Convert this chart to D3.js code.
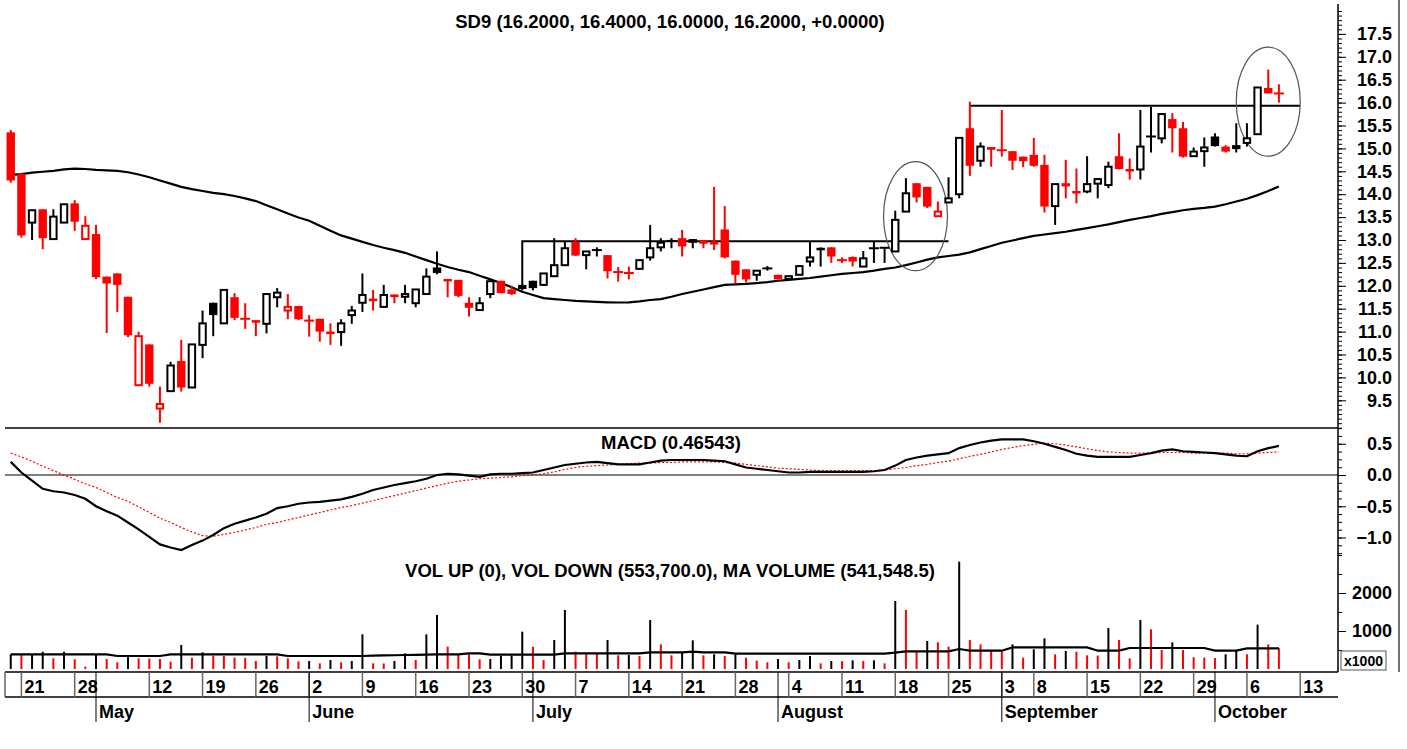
<!DOCTYPE html>
<html>
<head>
<meta charset="utf-8">
<script src="https://cdn.jsdelivr.net/npm/d3@7"></script>
<style>
body { margin: 0; background: #fff; }
svg text { font-family: "Liberation Sans", Arial, sans-serif; font-weight: bold; fill: #000; }
</style>
</head>
<body>
<div id="chart"></div>
<script>
"use strict";

// ---- price data (one value per trading day) ----
const opens = [15.35,14.44,13.38,13.67,13.02,13.38,13.80,13.02,13.13,12.20,
  12.27,11.76,9.83,10.72,9.32,9.70,10.36,9.78,10.71,11.63,
  11.18,11.75,11.29,11.25,11.17,11.75,11.46,11.56,11.25,11.28,
  11.00,10.99,11.36,11.63,11.72,11.54,11.81,11.76,11.62,11.82,
  12.40,12.15,12.13,11.63,11.47,11.82,12.11,11.92,12.02,12.11,
  12.02,12.21,12.45,12.96,12.67,12.77,12.67,12.31,12.29,12.37,
  12.62,12.84,12.97,13.04,13.02,13.00,12.97,13.23,12.55,12.36,
  12.24,12.37,12.24,12.15,12.24,12.53,12.83,12.84,12.57,12.63,
  12.42,12.81,12.82,12.75,13.62,14.24,14.16,13.52,13.82,14.00,
  15.44,14.73,15.03,14.97,14.94,14.82,14.86,14.64,13.74,14.24,
  14.07,14.06,14.23,14.20,14.83,14.55,14.54,15.25,15.22,15.64,
  15.44,14.83,14.94,15.26,15.04,15.03,15.12,15.31,16.32,16.20];
const highs = [15.40,14.45,13.65,13.67,13.67,13.78,13.87,13.52,13.33,12.20,
  12.27,11.76,11.00,10.72,9.80,10.34,10.82,10.72,11.46,11.63,
  11.91,11.84,11.62,11.25,11.82,11.95,11.82,11.56,11.36,11.28,
  11.18,11.27,11.56,12.27,11.91,12.02,11.81,12.02,11.92,12.38,
  12.75,12.15,12.13,11.75,11.75,12.10,12.11,12.00,12.02,12.11,
  12.27,13.04,12.96,13.04,12.75,12.84,12.67,12.41,12.42,12.56,
  13.33,13.04,13.04,13.22,13.02,13.00,14.16,13.74,12.55,12.36,
  12.33,12.43,12.24,12.21,12.43,12.96,12.84,12.84,12.62,12.64,
  12.76,12.96,12.84,13.64,14.35,14.24,14.16,13.84,14.37,15.23,
  16.02,15.13,15.03,15.84,14.94,14.82,15.23,14.86,14.22,14.75,
  14.56,14.83,14.35,14.71,15.33,14.78,15.84,15.91,15.75,15.77,
  15.58,15.02,15.24,15.33,15.07,15.55,15.55,16.33,16.72,16.40];
const lows = [14.25,13.05,13.00,12.80,13.02,13.38,13.20,13.02,12.15,10.97,
  11.43,10.88,9.83,9.80,9.01,9.70,9.69,9.78,10.42,10.90,
  11.18,11.25,11.06,10.90,10.96,11.53,11.27,11.25,10.89,10.78,
  10.71,10.69,11.17,11.43,11.46,11.54,11.62,11.62,11.53,11.82,
  12.25,11.75,11.75,11.33,11.46,11.73,11.84,11.80,11.90,11.90,
  12.00,12.19,12.45,12.65,12.36,12.64,12.16,12.09,12.14,12.37,
  12.55,12.75,12.82,12.64,12.82,12.82,12.78,12.60,12.05,12.07,
  12.11,12.33,12.14,12.14,12.24,12.42,12.42,12.50,12.50,12.42,
  12.42,12.50,12.50,12.75,13.62,13.82,13.70,13.52,13.82,13.91,
  14.40,14.60,14.60,14.82,14.53,14.59,14.60,13.60,13.33,13.91,
  13.80,14.02,13.91,14.13,14.54,14.32,14.32,14.91,15.11,14.91,
  14.80,14.83,14.60,15.04,14.91,14.91,15.04,15.31,16.20,16.00];
const closes = [14.30,13.10,13.65,13.04,13.51,13.78,13.40,13.31,12.19,12.05,
  12.02,10.92,10.90,9.86,9.42,10.26,9.78,10.72,11.18,11.36,
  11.91,11.30,11.28,11.22,11.82,11.85,11.54,11.27,11.24,11.00,
  10.98,11.18,11.46,11.80,11.70,11.80,11.76,11.82,11.92,12.20,
  12.28,12.13,11.78,11.52,11.62,12.10,11.84,11.82,11.93,11.95,
  12.27,12.45,12.82,12.66,12.75,12.78,12.32,12.30,12.28,12.56,
  12.82,12.94,12.98,12.86,12.94,12.92,12.90,12.62,12.24,12.14,
  12.33,12.38,12.14,12.21,12.43,12.62,12.81,12.64,12.56,12.53,
  12.60,12.82,12.83,13.44,14.02,13.93,13.73,13.62,13.91,15.23,
  14.62,15.04,14.97,14.96,14.73,14.72,14.62,13.73,14.22,14.17,
  14.05,14.22,14.33,14.60,14.55,14.53,15.04,15.26,15.75,15.44,
  14.82,14.93,15.02,15.05,14.93,15.05,15.22,16.33,16.20,16.20];

// long moving average of price
const maPrice = [14.42,14.44,14.47,14.49,14.51,14.54,14.56,14.55,14.53,14.52,
  14.51,14.48,14.43,14.37,14.30,14.23,14.16,14.11,14.07,14.03,
  14.00,13.96,13.91,13.85,13.76,13.67,13.58,13.49,13.42,13.31,
  13.20,13.10,13.03,12.96,12.89,12.83,12.78,12.72,12.64,12.56,
  12.48,12.41,12.35,12.30,12.22,12.14,12.06,11.97,11.87,11.80,
  11.73,11.71,11.69,11.67,11.66,11.65,11.64,11.635,11.64,11.66,
  11.69,11.71,11.76,11.82,11.87,11.92,11.97,12.02,12.03,12.04,
  12.06,12.08,12.11,12.13,12.15,12.17,12.20,12.23,12.26,12.28,
  12.30,12.33,12.37,12.40,12.45,12.51,12.57,12.62,12.65,12.68,
  12.73,12.80,12.87,12.94,12.99,13.04,13.09,13.12,13.15,13.18,
  13.22,13.26,13.30,13.34,13.39,13.44,13.48,13.52,13.57,13.61,
  13.65,13.68,13.70,13.73,13.78,13.84,13.90,13.98,14.07,14.17];

// MACD and its signal line
const macd = [0.21,0.04,-0.09,-0.22,-0.26,-0.28,-0.32,-0.38,-0.50,-0.58,
  -0.65,-0.76,-0.87,-0.99,-1.11,-1.16,-1.20,-1.12,-1.05,-0.96,
  -0.85,-0.78,-0.73,-0.68,-0.62,-0.53,-0.50,-0.46,-0.44,-0.43,
  -0.41,-0.39,-0.35,-0.30,-0.24,-0.20,-0.16,-0.13,-0.10,-0.06,
  0.00,0.02,0.01,-0.01,-0.03,0.01,0.02,0.02,0.03,0.04,
  0.08,0.12,0.16,0.18,0.20,0.21,0.19,0.17,0.17,0.17,
  0.20,0.23,0.24,0.24,0.24,0.24,0.23,0.22,0.17,0.12,
  0.10,0.08,0.06,0.04,0.04,0.05,0.05,0.05,0.05,0.05,
  0.05,0.06,0.08,0.15,0.24,0.28,0.31,0.33,0.35,0.43,
  0.48,0.52,0.55,0.57,0.57,0.57,0.54,0.50,0.45,0.40,
  0.34,0.31,0.29,0.29,0.29,0.29,0.32,0.35,0.39,0.41,
  0.38,0.37,0.36,0.35,0.33,0.31,0.30,0.38,0.43,0.465];
const signal = [0.35,0.29,0.22,0.14,0.07,0.00,-0.07,-0.14,-0.20,-0.28,
  -0.36,-0.42,-0.51,-0.60,-0.69,-0.76,-0.84,-0.91,-0.97,-0.98,
  -0.95,-0.92,-0.88,-0.84,-0.79,-0.76,-0.72,-0.68,-0.64,-0.60,
  -0.56,-0.52,-0.49,-0.45,-0.41,-0.37,-0.33,-0.29,-0.25,-0.21,
  -0.17,-0.13,-0.10,-0.08,-0.06,-0.05,-0.04,-0.03,-0.01,0.00,
  0.02,0.05,0.09,0.12,0.14,0.15,0.16,0.17,0.18,0.19,
  0.19,0.20,0.20,0.21,0.21,0.21,0.21,0.20,0.19,0.17,
  0.15,0.13,0.11,0.10,0.09,0.08,0.07,0.07,0.07,0.07,
  0.07,0.07,0.08,0.10,0.12,0.15,0.17,0.20,0.22,0.26,
  0.30,0.33,0.37,0.41,0.44,0.47,0.49,0.51,0.50,0.48,
  0.45,0.42,0.39,0.37,0.36,0.35,0.35,0.35,0.36,0.36,
  0.36,0.35,0.35,0.35,0.35,0.34,0.34,0.35,0.36,0.37];

// volume in thousands and its moving average
const volumes = [386,386,390,456,281,456,254,61,386,263,
  175,325,281,275,263,193,632,298,439,351,
  345,298,292,211,345,335,281,200,210,149,
  237,175,211,912,149,145,211,412,237,912,
  1421,588,395,386,255,263,345,355,982,588,
  237,763,1553,456,430,412,763,360,368,342,
  1289,649,360,430,754,360,386,342,386,298,
  219,175,263,175,237,342,149,211,205,228,
  211,228,149,1789,1553,456,737,702,588,2825,
  763,649,474,468,649,298,518,807,386,474,
  456,360,355,1079,763,281,1289,1044,500,702,
  500,310,300,290,386,474,386,1167,649,553.7];
const volMA = [386,386,386,386,386,386,386,386,386,386,
  342,342,342,342,342,386,386,386,386,386,
  386,386,386,386,386,386,342,342,342,342,
  342,342,342,342,350,356,362,368,374,380,
  386,386,386,412,412,377,377,377,377,377,
  377,377,412,412,412,412,412,412,412,412,
  439,439,439,439,456,439,439,439,404,404,
  404,404,404,404,404,404,404,404,404,404,
  404,404,404,430,465,465,465,465,465,526,
  482,482,482,482,570,570,570,570,570,570,
  570,570,482,482,482,553,553,553,553,553,
  553,553,553,482,482,482,541.5,541.5,541.5,541.5];

// date axis: [day index, label]
const weekTicks = [[1,"21"],[6,"28"],[13,"12"],[18,"19"],[23,"26"],[28,"2"],[33,"9"],[38,"16"],
  [43,"23"],[48,"30"],[53,"7"],[58,"14"],[63,"21"],[68,"28"],[73,"4"],[78,"11"],[83,"18"],
  [88,"25"],[93,"3"],[96,"8"],[101,"15"],[106,"22"],[111,"29"],[116,"6"],[121,"13"]];
const monthTicks = [[8,"May"],[28,"June"],[49,"July"],[72,"August"],[93,"September"],[113,"October"]];

// drawn annotations (in day index / price units)
const boxLine = [[48,12.02],[48,12.97],[88,12.97]];
const resistLine = [[90,15.93],[121,15.93]];
const ellipses = [{k:84.9, p:13.52, dk:3.0, dp:1.19}, {k:118, p:16.02, dk:3.0, dp:1.19}];

const titleText = "SD9 (16.2000, 16.4000, 16.0000, 16.2000, +0.0000)";
const macdText = "MACD (0.46543)";
const volText = "VOL UP (0), VOL DOWN (553,700.0), MA VOLUME (541,548.5)";

window.onload = draw;

function draw() {
    const W = 1407, H = 749;
    const left = 5, axisX = 1338;
    const RED = "#ff0000";

    const svg = d3.select("#chart").append("svg")
        .attr("width", W).attr("height", H);

    const x = d3.scaleLinear().domain([0, 119]).range([10.75, 1278.9]);
    const yP = d3.scaleLinear().domain([9.5, 17.5]).range([400.3, 33.9]);
    const yM = d3.scaleLinear().domain([-1, 0.5]).range([537.5, 443.75]);
    const yV = d3.scaleLinear().domain([0, 2000]).range([669, 593]);

    const idx = d3.range(opens.length);
    // candles: black when close rose, red otherwise
    const col = i => (i > 0 && closes[i] > closes[i - 1]) ? "#000" : RED;
    // volume bars: black when volume rose, red otherwise
    const vcol = i => (i === 0 || volumes[i] > volumes[i - 1]) ? "#000" : RED;

    // frame lines
    svg.append("line").attr("x1", left).attr("x2", axisX).attr("y1", 428).attr("y2", 428)
        .attr("stroke", "#000").attr("stroke-width", 1.5);
    svg.append("line").attr("x1", left).attr("x2", axisX).attr("y1", yM(0)).attr("y2", yM(0))
        .attr("stroke", "#000").attr("stroke-width", 1);
    svg.append("line").attr("x1", axisX).attr("x2", axisX).attr("y1", 4).attr("y2", 672)
        .attr("stroke", "#000").attr("stroke-width", 1.5);
    svg.append("line").attr("x1", 1399).attr("x2", 1399).attr("y1", 0).attr("y2", 672)
        .attr("stroke", "#444").attr("stroke-width", 1.5);

    // titles
    svg.append("text").attr("x", 670).attr("y", 28).attr("text-anchor", "middle")
        .style("font-size", "18.5px").text(titleText);
    svg.append("text").attr("x", 671).attr("y", 449).attr("text-anchor", "middle")
        .style("font-size", "18.5px").text(macdText);
    svg.append("text").attr("x", 670).attr("y", 577).attr("text-anchor", "middle")
        .style("font-size", "18.5px").text(volText);

    // price MA
    svg.append("path").datum(idx)
        .attr("fill", "none").attr("stroke", "#000").attr("stroke-width", 2.2)
        .attr("d", d3.line().x(i => x(i)).y(i => yP(maPrice[i])));

    // annotations
    const annoLine = d3.line().x(d => x(d[0])).y(d => yP(d[1]));
    svg.append("path").attr("d", annoLine(boxLine))
        .attr("fill", "none").attr("stroke", "#000").attr("stroke-width", 2);
    svg.append("path").attr("d", annoLine(resistLine))
        .attr("fill", "none").attr("stroke", "#000").attr("stroke-width", 2);
    svg.selectAll(".ell").data(ellipses).join("ellipse")
        .attr("cx", d => x(d.k)).attr("cy", d => yP(d.p))
        .attr("rx", d => x(d.k + d.dk) - x(d.k)).attr("ry", d => yP(d.p - d.dp) - yP(d.p))
        .attr("fill", "none").attr("stroke", "#555").attr("stroke-width", 1.2);

    // candles
    const candles = svg.append("g").selectAll("g").data(idx).join("g");
    candles.append("line")
        .attr("x1", i => x(i)).attr("x2", i => x(i))
        .attr("y1", i => yP(highs[i])).attr("y2", i => yP(lows[i]))
        .attr("stroke", col).attr("stroke-width", 2);
    candles.each(function(i) {
        const g = d3.select(this);
        const o = opens[i], c = closes[i];
        if (Math.abs(c - o) < 0.015) {
            g.append("line")
                .attr("x1", x(i) - 5).attr("x2", x(i) + 5)
                .attr("y1", yP(c)).attr("y2", yP(c))
                .attr("stroke", col(i)).attr("stroke-width", 2);
        } else if (c > o) {
            // hollow body
            g.append("rect")
                .attr("x", x(i) - 3.2).attr("width", 6.4)
                .attr("y", yP(c)).attr("height", Math.max(2, yP(o) - yP(c)))
                .attr("fill", "#fff").attr("stroke", col(i)).attr("stroke-width", 2);
        } else {
            g.append("rect")
                .attr("x", x(i) - 4.2).attr("width", 8.4)
                .attr("y", yP(o)).attr("height", Math.max(2.5, yP(c) - yP(o)))
                .attr("fill", col(i));
        }
    });

    // MACD lines
    svg.append("path").datum(idx)
        .attr("fill", "none").attr("stroke", RED).attr("stroke-width", 1.2)
        .attr("stroke-dasharray", "2,2")
        .attr("d", d3.line().x(i => x(i)).y(i => yM(signal[i])));
    svg.append("path").datum(idx)
        .attr("fill", "none").attr("stroke", "#000").attr("stroke-width", 2.2)
        .attr("d", d3.line().x(i => x(i)).y(i => yM(macd[i])));

    // volume bars and MA
    svg.append("g").selectAll("line").data(idx).join("line")
        .attr("x1", i => x(i)).attr("x2", i => x(i))
        .attr("y1", yV(0)).attr("y2", i => yV(volumes[i]))
        .attr("stroke", vcol).attr("stroke-width", 2);
    svg.append("path").datum(idx)
        .attr("fill", "none").attr("stroke", "#000").attr("stroke-width", 2.2)
        .attr("d", d3.line().x(i => x(i)).y(i => yV(volMA[i])));

    // right axes
    function rightAxis(scale, minor, major, fmt) {
        svg.append("g").attr("transform", `translate(${axisX},0)`)
            .call(d3.axisRight(scale).tickValues(minor).tickSize(4).tickFormat(""))
            .call(g => g.select(".domain").remove());
        const gM = svg.append("g").attr("transform", `translate(${axisX},0)`)
            .call(d3.axisRight(scale).tickValues(major).tickSize(8).tickFormat(fmt))
            .call(g => g.select(".domain").remove());
        gM.selectAll("text").attr("x", 54).attr("text-anchor", "end")
            .style("font-size", "18px").style("font-family", "'Liberation Sans', Arial, sans-serif")
            .style("font-weight", "bold");
    }
    rightAxis(yP, d3.range(89, 181).map(d => d / 10), d3.range(19, 36).map(d => d / 2), d3.format(".1f"));
    rightAxis(yM, d3.range(-10, 7).map(d => d / 8), [-1, -0.5, 0, 0.5], d3.format(".1f"));
    rightAxis(yV, [500, 1500, 2500, 3000], [1000, 2000], d3.format("d"));

    // x1000 box
    svg.append("rect").attr("x", 1341).attr("y", 651).attr("width", 45).attr("height", 19)
        .attr("fill", "#fff").attr("stroke", "#555").attr("stroke-width", 1);
    svg.append("text").attr("x", 1363.5).attr("y", 666).attr("text-anchor", "middle")
        .style("font-size", "14px").text("x1000");

    // date axis
    const axTop = 672, axMid = 697, axBot = 722;
    svg.append("line").attr("x1", left).attr("x2", axisX).attr("y1", axTop).attr("y2", axTop)
        .attr("stroke", "#000").attr("stroke-width", 1.5);
    svg.append("line").attr("x1", left).attr("x2", axisX).attr("y1", axMid).attr("y2", axMid)
        .attr("stroke", "#000").attr("stroke-width", 1.5);
    svg.append("line").attr("x1", left).attr("x2", left).attr("y1", axTop).attr("y2", axMid)
        .attr("stroke", "#666").attr("stroke-width", 1.5);

    const wk = svg.append("g").selectAll("g").data(weekTicks).join("g");
    wk.append("line").attr("x1", d => x(d[0])).attr("x2", d => x(d[0]))
        .attr("y1", axTop).attr("y2", axMid).attr("stroke", "#666").attr("stroke-width", 1.5);
    wk.append("text").attr("x", d => x(d[0]) + 3).attr("y", 693)
        .style("font-size", "18px").text(d => d[1]);

    const mo = svg.append("g").selectAll("g").data(monthTicks).join("g");
    mo.append("line").attr("x1", d => x(d[0])).attr("x2", d => x(d[0]))
        .attr("y1", axTop).attr("y2", axBot).attr("stroke", "#000").attr("stroke-width", 1);
    mo.append("text").attr("x", d => x(d[0]) + 3).attr("y", 718)
        .style("font-size", "18px").text(d => d[1]);
}
</script>
</body>
</html>
